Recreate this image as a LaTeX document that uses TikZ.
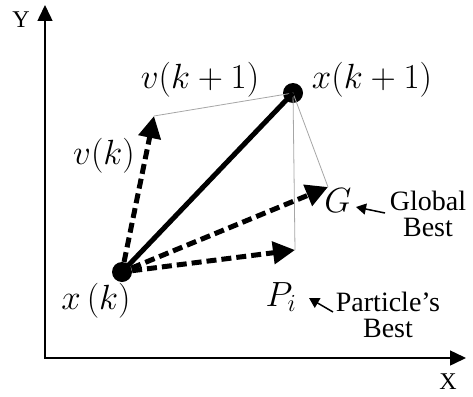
\documentclass[tikz,border=0pt]{standalone}
\usepackage{fix-cm}
\usepackage[no-math]{fontspec}
\setmainfont{Liberation Serif}
\usetikzlibrary{arrows.meta}

\begin{document}
\begin{tikzpicture}[x=1pt,y=-1pt,
  axis/.style={line width=1.5pt,{Triangle[length=16pt,width=15pt]}-{Triangle[length=16pt,width=15pt]}},
  dasharrow/.style={line width=5pt,dash pattern=on 10pt off 5pt,-{Triangle[length=22pt,width=22pt]}},
  guide/.style={gray!70,line width=0.8pt},
  dot/.style={circle,fill,inner sep=0pt,minimum size=20pt},
  mathlbl/.style={font=\fontsize{35}{40}\selectfont},
  txtlbl/.style={font=\fontsize{28}{26}\selectfont,align=center,inner sep=0pt},
  axislbl/.style={font=\fontsize{24}{26}\selectfont,inner sep=0pt},
  pointer/.style={line width=1.5pt,-{Triangle[length=10pt,width=11pt]}}]

\useasboundingbox (0,0) rectangle (473,396);

% Axes
\coordinate (ytop) at (45,5);
\coordinate (origin) at (45,358);
\coordinate (xend) at (466,358);
\draw[axis] (ytop) -- (origin) -- (xend);
\node[axislbl] (ylbl) at (21,20) {Y};
\node[axislbl] (xlbl) at (448,382) {X};

% Positions
\node[dot] (xk) at (122,272) {};
\node[dot] (xk1) at (293,93) {};
\coordinate (vtip) at (154,116);
\coordinate (gtip) at (328,187);
\coordinate (ptip) at (295,250);

% Guides
\draw[guide] (vtip) -- (xk1.center) -- (gtip);
\draw[guide] (xk1.center) -- (ptip);

% Move
\draw[line width=5pt] (xk.center) -- (xk1.center);

\foreach \t in {vtip,gtip,ptip}
{
    \draw[dasharrow] (xk) -- (\t);
}

% Labels
\node[mathlbl] (vk1lbl) at (200,80) {$v(k+1)$};
\node[mathlbl] (xk1lbl) at (372,80) {$x(k+1)$};
\node[mathlbl] (vklbl) at (104,156) {$v(k)$};
\node[mathlbl] (xklbl) at (96,301) {$x\,(k)$};
\node[mathlbl] (glbl) at (338,201) {$G$};
\node[mathlbl] (plbl) at (281,297) {$P_i$};

% Global best
\node[txtlbl] (gbest) at (428,214) {Global\\Best};
\coordinate (gfrom) at (385,213);
\coordinate (gto) at (356,207);
\draw[pointer] (gfrom) -- (gto);

% Particle's best
\node[txtlbl] (pbest) at (388,315) {Particle’s\\Best};
\coordinate (pfrom) at (333,312);
\coordinate (pto) at (309,298);
\draw[pointer] (pfrom) -- (pto);

\end{tikzpicture}
\end{document}
